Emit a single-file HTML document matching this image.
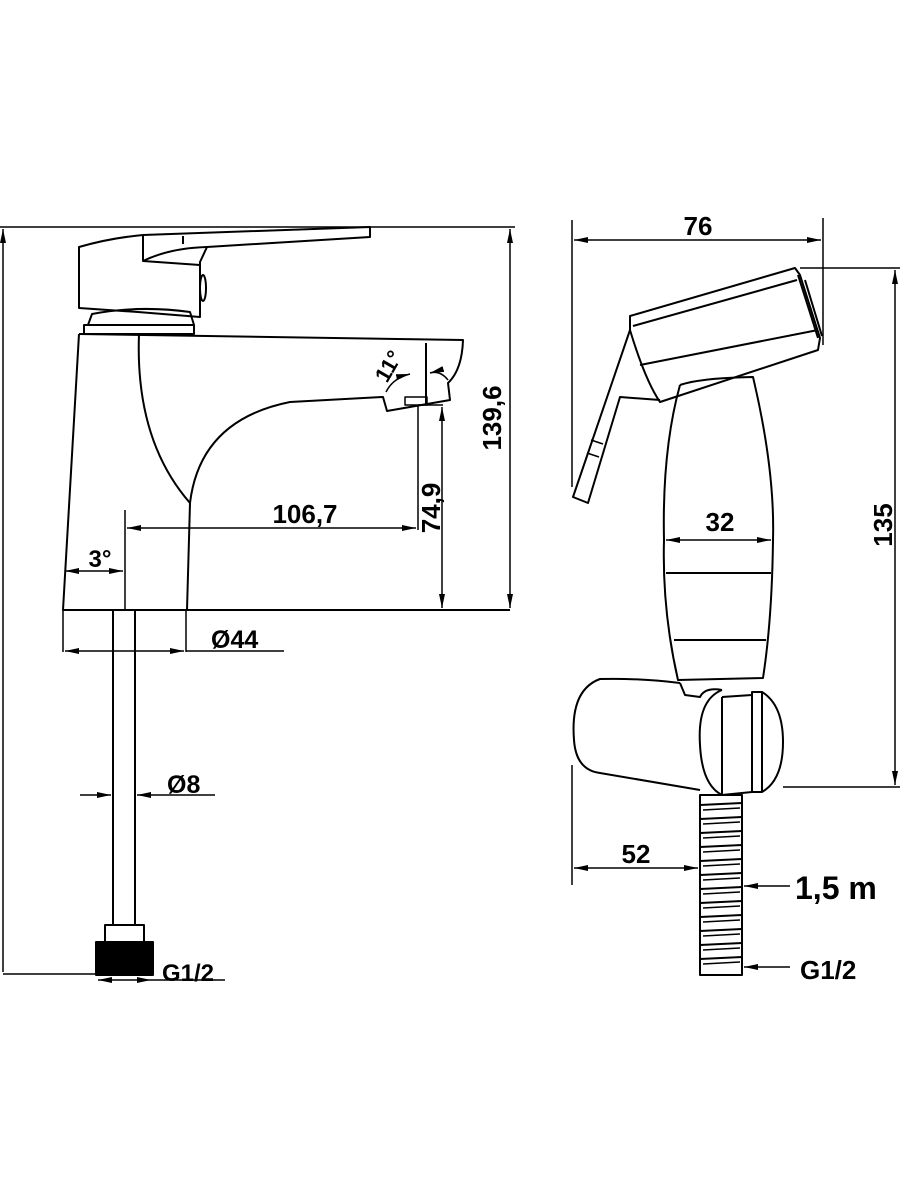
<!DOCTYPE html>
<html><head><meta charset="utf-8"><style>
html,body{margin:0;padding:0;background:#fff}
svg{display:block}
text{font-family:"Liberation Sans",sans-serif;font-weight:bold;fill:#000}
</style></head><body>
<svg width="900" height="1200" viewBox="0 0 900 1200" xmlns="http://www.w3.org/2000/svg">
<defs>
<marker id="a" viewBox="0 0 14 6" refX="14" refY="3" markerWidth="14" markerHeight="6" orient="auto-start-reverse" markerUnits="userSpaceOnUse"><path d="M0,0 L14,3 L0,6 Z" fill="#000"/></marker>
</defs>
<g fill="none" stroke="#000" stroke-width="2" stroke-linejoin="round">
<!-- LEFT FAUCET -->
<line x1="0" y1="227" x2="515" y2="227" stroke-width="1.5"/>
<line x1="3" y1="229" x2="3" y2="972" marker-start="url(#a)" stroke-width="1.5"/>
<line x1="510" y1="229" x2="510" y2="608" marker-start="url(#a)" marker-end="url(#a)" stroke-width="1.5"/>
<path d="M79,247 Q110,238 143,235 L370,227 L370,237 L207,247 L200,262 L200,317 L138,312 L79,308 Z"/>
<path d="M143,235 L143,261 Q170,248 207,247"/>
<path d="M143,261 L200,265"/>
<line x1="183" y1="236" x2="183" y2="244"/>
<ellipse cx="203" cy="288" rx="3" ry="13"/>
<path d="M88,325 L92,314 Q140,305 190,312 L194,325"/>
<rect x="84" y="325" width="110" height="9"/>
<path d="M79,334 L463,340 Q462,370 448,383 L450,400 L387,411 L383,397 L290,402 Q200,420 190,503 L187,610"/>
<path d="M79,334 L63,610 L510,610"/>
<path d="M139,334 Q135,440 190,503"/>
<line x1="426" y1="343" x2="426" y2="405"/>
<rect x="405" y="397" width="22" height="8" stroke-width="1.5"/>
<path d="M386,392 Q393,378 410,374" stroke-width="1.5" marker-end="url(#a)"/>
<path d="M448,380 Q440,370 430,373" stroke-width="1.5" marker-end="url(#a)"/>
<line x1="418" y1="405" x2="443" y2="405" stroke-width="1.5"/>
<line x1="418" y1="405" x2="418" y2="530" stroke-width="1.5"/>
<line x1="442" y1="407" x2="442" y2="608" marker-start="url(#a)" marker-end="url(#a)" stroke-width="1.5"/>
<line x1="125" y1="510" x2="125" y2="610" stroke-width="1.5"/>
<line x1="127" y1="528" x2="416" y2="528" marker-start="url(#a)" marker-end="url(#a)" stroke-width="1.5"/>
<line x1="65" y1="571" x2="123" y2="571" marker-start="url(#a)" marker-end="url(#a)" stroke-width="1.5"/>
<line x1="63" y1="610" x2="63" y2="652" stroke-width="1.5"/>
<line x1="186" y1="610" x2="186" y2="652" stroke-width="1.5"/>
<line x1="65" y1="651" x2="184" y2="651" marker-start="url(#a)" marker-end="url(#a)" stroke-width="1.5"/>
<line x1="186" y1="651" x2="284" y2="651" stroke-width="1.5"/>
<line x1="113" y1="610" x2="113" y2="925"/>
<line x1="135" y1="610" x2="135" y2="925"/>
<line x1="80" y1="795" x2="111" y2="795" marker-end="url(#a)" stroke-width="1.5"/>
<line x1="215" y1="795" x2="137" y2="795" marker-end="url(#a)" stroke-width="1.5"/>
<rect x="105" y="925" width="39" height="17"/>
<rect x="96" y="942" width="57" height="33" fill="#000"/>
<line x1="3" y1="974" x2="96" y2="974" stroke-width="1.5"/>
<line x1="98" y1="980" x2="151" y2="980" marker-start="url(#a)" marker-end="url(#a)" stroke-width="1.5"/>
<line x1="151" y1="980" x2="225" y2="980" stroke-width="1.5"/>

<!-- RIGHT SPRAYER -->
<line x1="572" y1="220" x2="572" y2="487" stroke-width="1.5"/>
<line x1="823" y1="218" x2="823" y2="345" stroke-width="1.5"/>
<line x1="574" y1="240" x2="821" y2="240" marker-start="url(#a)" marker-end="url(#a)" stroke-width="1.5"/>
<path d="M630,316 L795,268 L800,275 L820,338 L818,350 L660,402 Q645,380 630,330 Z"/>
<path d="M633,326 L797,280"/>
<path d="M640,365 L818,330"/>
<path d="M798,275 L818,338"/>
<path d="M805,280 L822,336"/>
<path d="M630,330 L573,497 L588,503 L620,397 L660,400"/>
<line x1="591" y1="440" x2="603" y2="444" stroke-width="1.5"/>
<line x1="587" y1="453" x2="599" y2="457" stroke-width="1.5"/>
<path d="M680,385 Q700,378 753,377 Q775,470 773,540 Q772,620 763,678 L678,680 Q662,610 664,540 Q662,450 680,385"/>
<line x1="666" y1="573" x2="771" y2="573"/>
<line x1="674" y1="640" x2="766" y2="640"/>
<line x1="666" y1="540" x2="771" y2="540" marker-start="url(#a)" marker-end="url(#a)" stroke-width="1.5"/>
<path d="M680,683 Q640,678 600,679 Q570,690 574,740 Q576,770 600,773 L700,790"/>
<path d="M680,683 L685,695 L700,697 Q705,687 722,690"/>
<path d="M722,690 Q697,700 700,745 Q702,785 722,795 L722,697"/>
<line x1="722" y1="697" x2="752" y2="695"/>
<rect x="752" y="692" width="10" height="100"/>
<path d="M762,692 Q783,705 783,742 Q783,780 762,792"/>
<line x1="722" y1="795" x2="752" y2="792"/>
<line x1="783" y1="787" x2="900" y2="787" stroke-width="1.5"/>
<line x1="800" y1="268" x2="900" y2="268" stroke-width="1.5"/>
<line x1="895" y1="270" x2="895" y2="785" marker-start="url(#a)" marker-end="url(#a)" stroke-width="1.5"/>
<rect x="700" y="795" width="42" height="180" fill="#fff"/>
<path d="M700,805 L742,803 M700,819 L742,817 M700,833 L742,831 M700,847 L742,845 M700,861 L742,859 M700,875 L742,873 M700,889 L742,887 M700,903 L742,901 M700,917 L742,915 M700,931 L742,929 M700,945 L742,943 M700,959 L742,957" stroke-width="2"/>
<path d="M703,810 L740,808 M703,824 L740,822 M703,838 L740,836 M703,852 L740,850 M703,866 L740,864 M703,880 L740,878 M703,894 L740,892 M703,908 L740,906 M703,922 L740,920 M703,936 L740,934 M703,950 L740,948 M703,964 L740,962" stroke-width="1.5"/>
<line x1="572" y1="765" x2="572" y2="885" stroke-width="1.5"/>
<line x1="574" y1="868" x2="698" y2="868" marker-start="url(#a)" marker-end="url(#a)" stroke-width="1.5"/>
<line x1="790" y1="886" x2="744" y2="886" marker-end="url(#a)" stroke-width="1.5"/>
<line x1="790" y1="967" x2="744" y2="967" marker-end="url(#a)" stroke-width="1.5"/>
</g>
<text x="305" y="523" font-size="26" text-anchor="middle">106,7</text>
<text x="100" y="567" font-size="24" text-anchor="middle">3°</text>
<text transform="translate(440,508) rotate(-90)" font-size="26" text-anchor="middle">74,9</text>
<text transform="translate(501,418) rotate(-90)" font-size="26" text-anchor="middle">139,6</text>
<text transform="translate(395,370) rotate(-60)" font-size="22" text-anchor="middle">11°</text>
<text x="211" y="648" font-size="25">Ø44</text>
<text x="167" y="793" font-size="25">Ø8</text>
<text x="162" y="981" font-size="24">G1/2</text>
<text x="698" y="235" font-size="26" text-anchor="middle">76</text>
<text x="720" y="531" font-size="26" text-anchor="middle">32</text>
<text transform="translate(892,525) rotate(-90)" font-size="26" text-anchor="middle">135</text>
<text x="636" y="863" font-size="26" text-anchor="middle">52</text>
<text x="795" y="899" font-size="32">1,5 m</text>
<text x="800" y="979" font-size="26">G1/2</text>
</svg>
</body></html>
